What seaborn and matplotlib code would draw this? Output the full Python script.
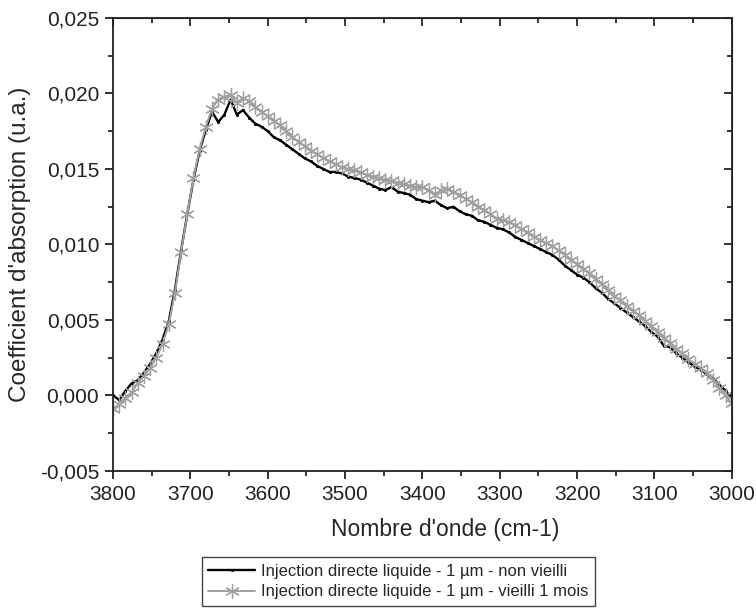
import numpy as np
import pandas as pd
import seaborn as sns
import matplotlib.pyplot as plt
from matplotlib.ticker import FuncFormatter, MultipleLocator

# wavenumber grid (cm-1), 8 cm-1 steps from 3800 down to 3000
wavenumber = np.arange(3800, 2999, -8)

# absorption coefficient (x 1e-3)
non_vieilli = [
    0.0, -0.3, 0.3, 0.8, 1.0, 1.5, 2.1, 2.8, 3.7, 4.9,
    7.0, 9.6, 12.0, 14.3, 16.2, 17.6, 18.8, 18.1, 18.6, 19.6,
    18.6, 18.9, 18.4, 18.0, 17.8, 17.5, 17.1, 16.9, 16.6, 16.3,
    16.0, 15.7, 15.5, 15.2, 15.0, 14.8, 14.8, 14.7, 14.5, 14.4,
    14.3, 14.1, 13.9, 13.7, 13.6, 13.8, 13.5, 13.4, 13.3, 13.0,
    12.9, 12.8, 12.9, 12.6, 12.4, 12.5, 12.2, 12.0, 11.9, 11.6,
    11.5, 11.3, 11.1, 11.0, 10.8, 10.5, 10.3, 10.1, 9.9, 9.7,
    9.5, 9.3, 9.0, 8.6, 8.3, 8.0, 7.8, 7.5, 7.1, 6.8,
    6.4, 6.1, 5.8, 5.5, 5.2, 4.9, 4.6, 4.2, 3.9, 3.3,
    3.2, 2.8, 2.5, 2.2, 1.9, 1.7, 1.4, 1.1, 0.7, 0.3,
    -0.2,
]
vieilli_1_mois = [
    -0.9, -0.6, -0.2, 0.2, 0.8, 1.3, 1.8, 2.5, 3.4, 4.7,
    6.8, 9.5, 12.0, 14.4, 16.3, 17.8, 19.0, 19.6, 19.8, 19.9,
    19.4, 19.7, 19.5, 19.1, 18.8, 18.5, 18.2, 17.9, 17.5, 17.1,
    16.8, 16.5, 16.2, 16.0, 15.7, 15.5, 15.3, 15.1, 15.0, 14.9,
    14.8, 14.6, 14.5, 14.4, 14.3, 14.2, 14.1, 14.0, 13.9, 13.8,
    13.8, 13.6, 13.3, 13.6, 13.7, 13.5, 13.3, 13.0, 12.8, 12.5,
    12.3, 12.0, 11.7, 11.6, 11.5, 11.3, 11.0, 10.8, 10.5, 10.3,
    10.1, 9.9, 9.6, 9.3, 9.0, 8.7, 8.4, 8.1, 7.7, 7.4,
    7.0, 6.6, 6.3, 5.9, 5.6, 5.3, 4.9, 4.6, 4.2, 3.8,
    3.5, 3.1, 2.8, 2.4, 2.1, 1.8, 1.5, 1.0, 0.5, 0.0,
    -0.5,
]

labels = [
    "Injection directe liquide - 1 µm - non vieilli",
    "Injection directe liquide - 1 µm - vieilli 1 mois",
]

sns.set_style("ticks")
plt.rcParams["font.family"] = ["Liberation Sans", "DejaVu Sans"]

fig, ax = plt.subplots(figsize=(7.56, 6.10), dpi=100)
fig.subplots_adjust(left=0.1495, right=0.968, top=0.9705, bottom=0.228)

df = pd.DataFrame({
    "x": wavenumber,
    "black": np.array(non_vieilli) * 1e-3,
    "grey": np.array(vieilli_1_mois) * 1e-3,
})

sns.lineplot(data=df, x="x", y="black", ax=ax, color="black", lw=1.7,
             marker="o", markersize=2.2, markeredgewidth=0, label=labels[0])
sns.lineplot(data=df, x="x", y="grey", ax=ax, color="#a0a0a0", lw=1.4,
             marker=(6, 2, 0), markersize=10.5, markeredgewidth=0.9,
             markeredgecolor="#a0a0a0", label=labels[1])

ax.set_xlim(3800, 3000)
ax.set_ylim(-0.005, 0.025)
ax.xaxis.set_major_locator(MultipleLocator(100))
ax.xaxis.set_minor_locator(MultipleLocator(50))
ax.yaxis.set_major_locator(MultipleLocator(0.005))
ax.yaxis.set_minor_locator(MultipleLocator(0.0025))
ax.yaxis.set_major_formatter(FuncFormatter(lambda v, p: f"{v:.3f}".replace(".", ",")))

for s in ax.spines.values():
    s.set_linewidth(1.3)
    s.set_color("#222222")
    s.set_visible(True)

ax.tick_params(which="major", direction="out", length=6, width=1.3, labelsize=15,
               colors="#222222", pad=4)
ax.tick_params(which="minor", direction="out", length=3.5, width=1.3)

# mirrored ticks pointing inward on top and right
top = ax.secondary_xaxis("top")
top.xaxis.set_major_locator(MultipleLocator(100))
top.xaxis.set_minor_locator(MultipleLocator(50))
top.tick_params(which="major", direction="in", length=6, width=1.3, labeltop=False)
top.tick_params(which="minor", direction="in", length=3.5, width=1.3)
right = ax.secondary_yaxis("right")
right.yaxis.set_major_locator(MultipleLocator(0.005))
right.yaxis.set_minor_locator(MultipleLocator(0.0025))
right.tick_params(which="major", direction="in", length=6, width=1.3, labelright=False)
right.tick_params(which="minor", direction="in", length=3.5, width=1.3)

ax.set_xlabel("Nombre d'onde (cm-1)", fontsize=16.5, labelpad=10, x=0.537)
ax.set_ylabel("Coefficient d'absorption (u.a.)", fontsize=17.5, labelpad=6)

handles, labs = ax.get_legend_handles_labels()
ax.get_legend().remove()
leg = fig.legend(handles, labs, loc="upper center", bbox_to_anchor=(0.527, 0.087),
                 fontsize=12, frameon=True, fancybox=False, edgecolor="#444444",
                 framealpha=1, borderpad=0.4, handlelength=2.8, handletextpad=0.35,
                 labelspacing=0.35, borderaxespad=0)
leg.get_frame().set_linewidth(1.0)

fig.savefig("out.png", dpi=100)
